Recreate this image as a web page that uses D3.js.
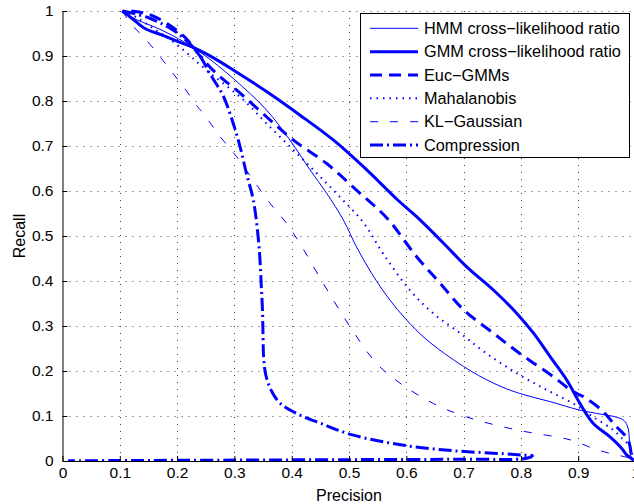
<!DOCTYPE html>
<html><head><meta charset="utf-8">
<script src="https://cdn.jsdelivr.net/npm/d3@7"></script>
<style>
html,body{margin:0;padding:0;background:#fff;}
svg{display:block;font-family:"Liberation Sans",Arial,Helvetica,sans-serif;}
</style></head>
<body><svg id="c" width="634" height="504"></svg>
<script>
// ---- data ----
const xTicks = [0,0.1,0.2,0.3,0.4,0.5,0.6,0.7,0.8,0.9,1];
const yTicks = [0,0.1,0.2,0.3,0.4,0.5,0.6,0.7,0.8,0.9,1];
const seriesNames = ["HMM cross\u2212likelihood ratio","GMM cross\u2212likelihood ratio","Euc\u2212GMMs","Mahalanobis","KL\u2212Gaussian","Compression"];

const hmmX = [0.104,0.13,0.16,0.2,0.243,0.298,0.356,0.397,0.432,0.461,0.49,0.513,0.54,0.57,0.60,0.636,0.70,0.752,0.798,0.851,0.903,0.94,0.965,0.98,0.987,0.99,0.992];
const hmmY = [1.0,0.98,0.965,0.94,0.906,0.85,0.78,0.713,0.647,0.595,0.536,0.476,0.416,0.36,0.314,0.269,0.21,0.173,0.15,0.132,0.113,0.104,0.098,0.09,0.073,0.032,0.002];

const gmmX = [0.104,0.121,0.144,0.173,0.202,0.23,0.262,0.298,0.356,0.414,0.473,0.531,0.585,0.618,0.665,0.705,0.752,0.793,0.822,0.851,0.880,0.903,0.926,0.955,0.976,0.985,0.993,0.997];
const gmmY = [1.0,0.984,0.961,0.947,0.932,0.918,0.897,0.869,0.821,0.769,0.713,0.647,0.58,0.543,0.484,0.432,0.38,0.328,0.284,0.232,0.18,0.128,0.084,0.054,0.028,0.013,0.006,0.001];

const eucX = [0.12,0.15,0.185,0.215,0.24,0.272,0.304,0.356,0.403,0.461,0.513,0.566,0.618,0.659,0.7,0.752,0.798,0.857,0.89,0.909,0.941,0.964,0.987,0.993];
const eucY = [1.0,0.993,0.97,0.94,0.9,0.857,0.824,0.765,0.713,0.661,0.602,0.54,0.454,0.395,0.336,0.284,0.239,0.187,0.155,0.143,0.113,0.08,0.047,0.006];

const mahX = [0.105,0.13,0.16,0.2,0.25,0.316,0.356,0.403,0.444,0.484,0.525,0.56,0.606,0.647,0.694,0.74,0.793,0.845,0.891,0.926,0.961,0.979,0.99,0.996];
const mahY = [1.0,0.985,0.96,0.925,0.87,0.802,0.75,0.691,0.639,0.587,0.53,0.46,0.38,0.328,0.284,0.239,0.195,0.158,0.128,0.098,0.069,0.047,0.032,0.002];

const klX = [0.105,0.118,0.141,0.17,0.188,0.211,0.234,0.246,0.275,0.304,0.333,0.362,0.391,0.414,0.455,0.502,0.548,0.589,0.647,0.705,0.793,0.886,0.926,0.955,0.99,0.996];
const klY = [1.0,0.973,0.943,0.899,0.869,0.832,0.79,0.772,0.721,0.676,0.624,0.573,0.528,0.484,0.395,0.298,0.217,0.173,0.128,0.098,0.069,0.047,0.028,0.017,0.006,0.001];

const compX = [0.105,0.15,0.19,0.22,0.24,0.257,0.281,0.298,0.31,0.321,0.333,0.342,0.345,0.347,0.349,0.35,0.351,0.355,0.365,0.38,0.408,0.45,0.506,0.59,0.681,0.772,0.806,0.82,0.81,0.7,0.5,0.3,0.1,0.01];
const compY = [1.0,0.985,0.96,0.93,0.9,0.861,0.81,0.75,0.698,0.639,0.58,0.491,0.439,0.387,0.336,0.276,0.23,0.19,0.155,0.128,0.106,0.084,0.058,0.036,0.023,0.016,0.013,0.012,0.006,0.004,0.003,0.002,0.001,0.0005];

// ---- layout ----
const svg = d3.select("#c");
const x = d3.scaleLinear().domain([0,1]).range([62.5,635.5]);
const y = d3.scaleLinear().domain([0,1]).range([461,11]);
const blue = "#0000ff";

const styles = [
  {w:1,   dash:null},
  {w:3,   dash:null},
  {w:3,   dash:"12,7"},
  {w:2,   dash:"1.5,5"},
  {w:1,   dash:"8,12"},
  {w:3,   dash:"13,4,2,4"}
];
const series = [[hmmX,hmmY],[gmmX,gmmY],[eucX,eucY],[mahX,mahY],[klX,klY],[compX,compY]];

// grid
const grid = svg.append("g").attr("stroke","#444").attr("stroke-width",1).attr("stroke-dasharray","1,6");
grid.selectAll(".gx").data(xTicks.slice(1)).join("line")
  .attr("x1",d=>Math.round(x(d))+0.5).attr("x2",d=>Math.round(x(d))+0.5)
  .attr("y1",y(1)).attr("y2",y(0));
grid.selectAll(".gy").data(yTicks.slice(1)).join("line")
  .attr("y1",d=>Math.round(y(d))+0.5).attr("y2",d=>Math.round(y(d))+0.5)
  .attr("x1",x(0)).attr("x2",x(1));

// clip
svg.append("clipPath").attr("id","clip").append("rect")
  .attr("x",x(0)).attr("y",y(1)-2).attr("width",x(1)-x(0)).attr("height",y(0)-y(1)+2);

const line = d3.line().x(d=>x(d[0])).y(d=>y(d[1])).curve(d3.curveCatmullRom.alpha(0.5));
const lines = svg.append("g").attr("clip-path","url(#clip)");
series.forEach((s,i)=>{
  const pts = s[0].map((v,j)=>[v,s[1][j]]);
  lines.append("path").datum(pts)
    .attr("d",line).attr("fill","none").attr("stroke",blue)
    .attr("stroke-width",styles[i].w)
    .attr("stroke-dasharray",styles[i].dash)
    .attr("stroke-linejoin","round");
});

// axes
const fmt = d3.format("~g");
const ax = svg.append("g").attr("transform",`translate(0,${y(0)})`)
  .call(d3.axisBottom(x).tickValues(xTicks).tickFormat(fmt).tickSizeInner(-5).tickSizeOuter(0).tickPadding(6));
const ay = svg.append("g").attr("transform",`translate(${x(0)},0)`)
  .call(d3.axisLeft(y).tickValues(yTicks).tickFormat(fmt).tickSizeInner(-5).tickSizeOuter(0).tickPadding(9));
[ax,ay].forEach(a=>{
  a.selectAll("text").attr("font-size",15.5).attr("fill","#000").attr("font-family","Liberation Sans, Arial, sans-serif");
  a.select(".domain").attr("stroke","#000");
  a.selectAll(".tick line").attr("stroke","#000");
});

svg.append("text").attr("x",(x(0)+x(1))/2).attr("y",501).attr("text-anchor","middle")
  .attr("font-size",16).text("Precision");
svg.append("text").attr("transform",`translate(25,${y(0.5)}) rotate(-90)`).attr("text-anchor","middle")
  .attr("font-size",16).text("Recall");

// legend
const lg = svg.append("g");
lg.append("rect").attr("x",360.5).attr("y",13.5).attr("width",269).attr("height",144)
  .attr("fill","#fff").attr("stroke","#000").attr("stroke-width",1);
seriesNames.forEach((n,i)=>{
  const cy = 28.3 + i*23.35;
  lg.append("line").attr("x1",370).attr("x2",418).attr("y1",cy).attr("y2",cy)
    .attr("stroke",blue).attr("stroke-width",styles[i].w).attr("stroke-dasharray",styles[i].dash);
  lg.append("text").attr("x",424).attr("y",cy).attr("dy","0.35em").attr("font-size",16.3).text(n);
});
</script></body></html>
